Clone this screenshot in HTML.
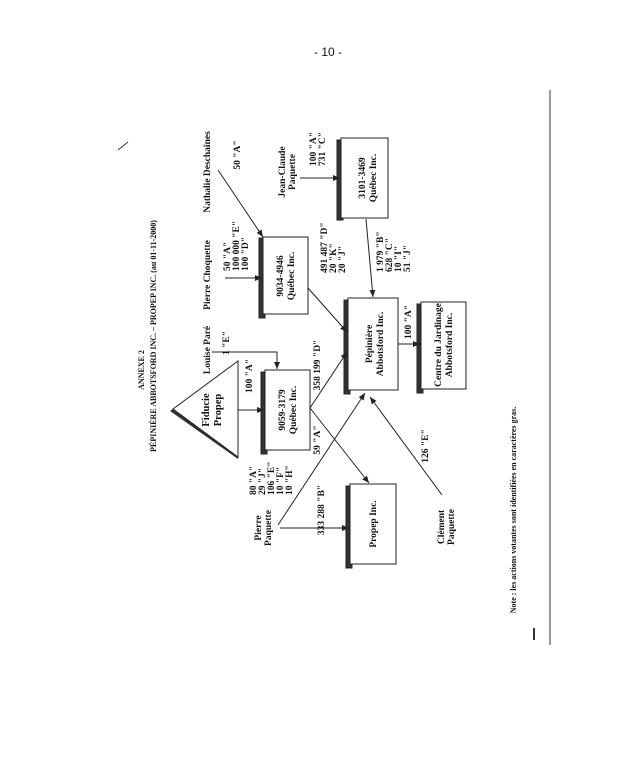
<!DOCTYPE html>
<html><head><meta charset="utf-8"><style>
html,body{margin:0;padding:0;background:#fff;}
svg{display:block;}
text{font-family:"Liberation Serif",serif;font-size:9.5px;fill:#111;font-weight:bold;}
</style></head><body>
<svg width="624" height="759" viewBox="0 0 624 759" xmlns="http://www.w3.org/2000/svg">
<defs><marker id="a" markerWidth="8" markerHeight="8" refX="7" refY="4" orient="auto" markerUnits="userSpaceOnUse"><path d="M0,1 L7,4 L0,7 z" fill="#222"/></marker></defs>
<rect width="624" height="759" fill="#fff"/>
<text x="328" y="56" text-anchor="middle" style="font-family:'Liberation Sans',sans-serif;font-weight:normal;font-size:12px">- 10 -</text>
<line x1="550" y1="90" x2="550" y2="645" stroke="#555" stroke-width="1.2"/>
<text transform="translate(144,370) rotate(-90)" text-anchor="middle" style="font-size:8px">ANNEXE 2</text>
<text transform="translate(156,336) rotate(-90)" text-anchor="middle" style="font-size:8px">PÉPINIÈRE ABBOTSFORD INC. – PROPEP INC. (au 01-11-2000)</text>
<text transform="translate(516,510) rotate(-90)" text-anchor="middle" style="font-size:8px">Note : les actions votantes sont identifiées en caractères gras.</text>
<g stroke="#222" stroke-width="1" fill="#fff">
<rect x="337" y="140" width="6" height="80" fill="#333"/><rect x="341" y="138" width="47" height="80"/>
<rect x="259" y="238" width="6" height="80" fill="#333"/><rect x="263" y="237" width="45" height="77"/>
<rect x="344" y="300" width="6" height="94" fill="#333"/><rect x="348" y="298" width="50" height="92"/>
<rect x="417" y="304" width="6" height="89" fill="#333"/><rect x="421" y="302" width="45" height="87"/>
<rect x="261" y="372" width="6" height="82" fill="#333"/><rect x="265" y="370" width="45" height="80"/>
<rect x="346" y="486" width="6" height="82" fill="#333"/><rect x="350" y="484" width="46" height="80"/>
<polygon points="170,411 238,361 238,459" fill="#333" stroke="none"/>
<polygon points="173,409 238,361 238,457"/>
</g>
<g stroke="#222" stroke-width="1" fill="none" marker-end="url(#a)">
<line x1="218" y1="170" x2="263" y2="237"/>
<line x1="300" y1="178" x2="340" y2="178"/>
<line x1="366" y1="219" x2="373" y2="297"/>
<line x1="225" y1="278" x2="262" y2="278"/>
<line x1="308" y1="288" x2="347" y2="332"/>
<line x1="398" y1="344" x2="420" y2="344"/>
<polyline points="212,352 277,352 277,369"/>
<line x1="238" y1="410" x2="264" y2="410"/>
<line x1="310" y1="408" x2="347" y2="352"/>
<line x1="310" y1="408" x2="369" y2="483"/>
<line x1="278" y1="525" x2="365" y2="393"/>
<line x1="280" y1="528" x2="349" y2="528"/>
<line x1="442" y1="495" x2="370" y2="397"/>
</g>
<g text-anchor="middle">
<text transform="translate(365,178) rotate(-90)">3101-3469<tspan x="0" dy="11">Québec Inc.</tspan></text>
<text transform="translate(283,276) rotate(-90)">9034-4946<tspan x="0" dy="11">Québec Inc.</tspan></text>
<text transform="translate(372,344) rotate(-90)">Pépinière<tspan x="0" dy="11">Abbotsford Inc.</tspan></text>
<text transform="translate(441,345) rotate(-90)">Centre du Jardinage<tspan x="0" dy="11">Abbotsford Inc.</tspan></text>
<text transform="translate(285,410) rotate(-90)">9059-3179<tspan x="0" dy="11">Québec Inc.</tspan></text>
<text transform="translate(376,524) rotate(-90)">Propep Inc.</text>
<text transform="translate(209,410) rotate(-90)" style="font-size:10.5px">Fiducie<tspan x="0" dy="12">Propep</tspan></text>
<text transform="translate(210,172) rotate(-90)">Nathalie Deschaînes</text>
<text transform="translate(240,155) rotate(-90)">50 "A"</text>
<text transform="translate(285,172) rotate(-90)">Jean-Claude<tspan x="0" dy="10">Paquette</tspan></text>
<text transform="translate(210,275) rotate(-90)">Pierre Choquette</text>
<text transform="translate(411,322) rotate(-90)">100 "A"</text>
<text transform="translate(210,350) rotate(-90)">Louise Paré</text>
<text transform="translate(229,343) rotate(-90)">1 "E"</text>
<text transform="translate(252,376) rotate(-90)">100 "A"</text>
<text transform="translate(320,365) rotate(-90)">358 199 "D"</text>
<text transform="translate(320,440) rotate(-90)">59 "A"</text>
<text transform="translate(324,510) rotate(-90)">333 288 "B"</text>
<text transform="translate(261,528) rotate(-90)">Pierre<tspan x="0" dy="10">Paquette</tspan></text>
<text transform="translate(428,446) rotate(-90)">126 "E"</text>
<text transform="translate(444,527) rotate(-90)">Clément<tspan x="0" dy="10">Paquette</tspan></text>
</g>
<g text-anchor="start">
<text transform="translate(316,166) rotate(-90)">100 "A"<tspan x="0" dy="9">731 "C"</tspan></text>
<text transform="translate(230,271) rotate(-90)">50 "A"<tspan x="0" dy="9">100 000 "E"</tspan><tspan x="0" dy="9">100 "D"</tspan></text>
<text transform="translate(327,273) rotate(-90)">491 487 "D"<tspan x="0" dy="9">20 "K"</tspan><tspan x="0" dy="9">20 "J"</tspan></text>
<text transform="translate(383,272) rotate(-90)">1 979 "B"<tspan x="0" dy="9">628 "C"</tspan><tspan x="0" dy="9">10 "I"</tspan><tspan x="0" dy="9">51 "J"</tspan></text>
<text transform="translate(256,495) rotate(-90)">80 "A"<tspan x="0" dy="9">29 "J"</tspan><tspan x="0" dy="9">106 "E"</tspan><tspan x="0" dy="9">10 "F"</tspan><tspan x="0" dy="9">10 "H"</tspan></text>
</g>
<line x1="118" y1="150" x2="128" y2="142" stroke="#333" stroke-width="1"/>
<line x1="534" y1="628" x2="534" y2="640" stroke="#333" stroke-width="2"/>
</svg>
</body></html>
